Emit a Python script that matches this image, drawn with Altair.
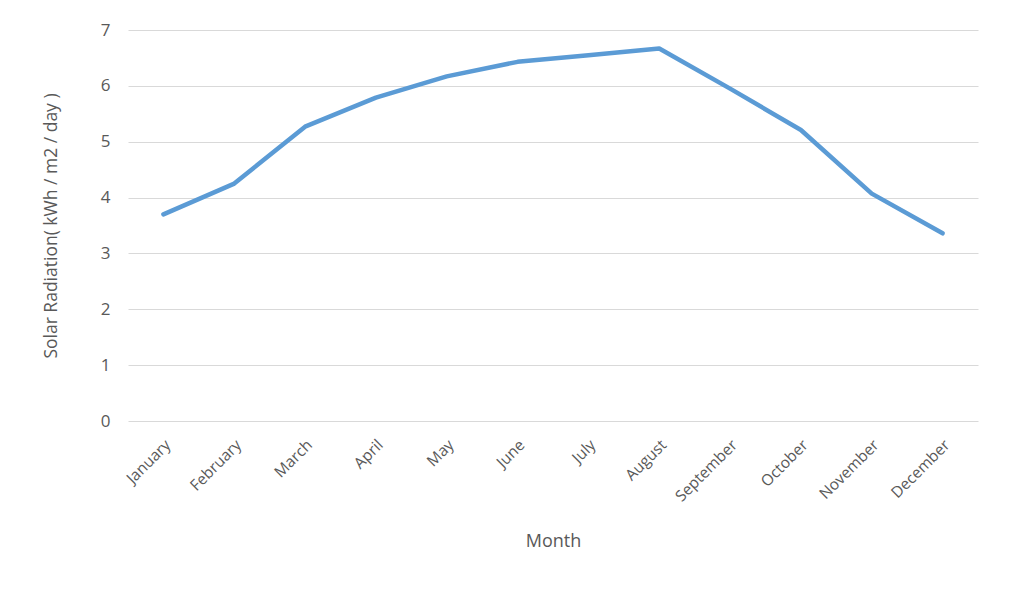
import altair as alt
import pandas as pd

months = ["January", "February", "March", "April", "May", "June", "July",
          "August", "September", "October", "November", "December"]
radiation = [3.70, 4.25, 5.27, 5.79, 6.17, 6.43, 6.55, 6.67, 5.95, 5.21, 4.07, 3.36]

df = pd.DataFrame({"Month": months, "Radiation": radiation})

FONT = "Open Sans"
GREY = "#595959"

chart = alt.Chart(df).mark_line(
    color="#5B9BD5", strokeWidth=4.5, strokeCap="round", strokeJoin="round"
).encode(
    x=alt.X("Month:N", sort=months, title="Month",
            scale=alt.Scale(padding=0.5),
            axis=alt.Axis(labelAngle=-45, labelAlign="right", labelBaseline="middle",
                          labelPadding=21, labelOffset=4, ticks=False, domain=False, grid=False,
                          labelFontSize=15.5, titleFontSize=18, titlePadding=28,
                          labelColor=GREY, titleColor=GREY, titleFontWeight="normal",
                          labelFont=FONT, titleFont=FONT)),
    y=alt.Y("Radiation:Q", title="Solar Radiation( kWh / m2 / day )",
            scale=alt.Scale(domain=[0, 7], nice=False),
            axis=alt.Axis(values=[0, 1, 2, 3, 4, 5, 6, 7], ticks=False, domain=False,
                          gridColor="#d9d9d9", gridWidth=1, labelPadding=18,
                          labelFontSize=17, titleFontSize=17.5, titlePadding=40,
                          labelColor=GREY, titleColor=GREY, titleFontWeight="normal",
                          labelFont=FONT, titleFont=FONT)),
).properties(
    width=850, height=391,
    autosize=alt.AutoSizeParams(type="none"),
    padding={"left": 120, "top": 22, "right": 25, "bottom": 160},
).configure(background="white").configure_view(stroke=None)

chart.save("out.html", embed_options={"renderer": "svg", "actions": False})
